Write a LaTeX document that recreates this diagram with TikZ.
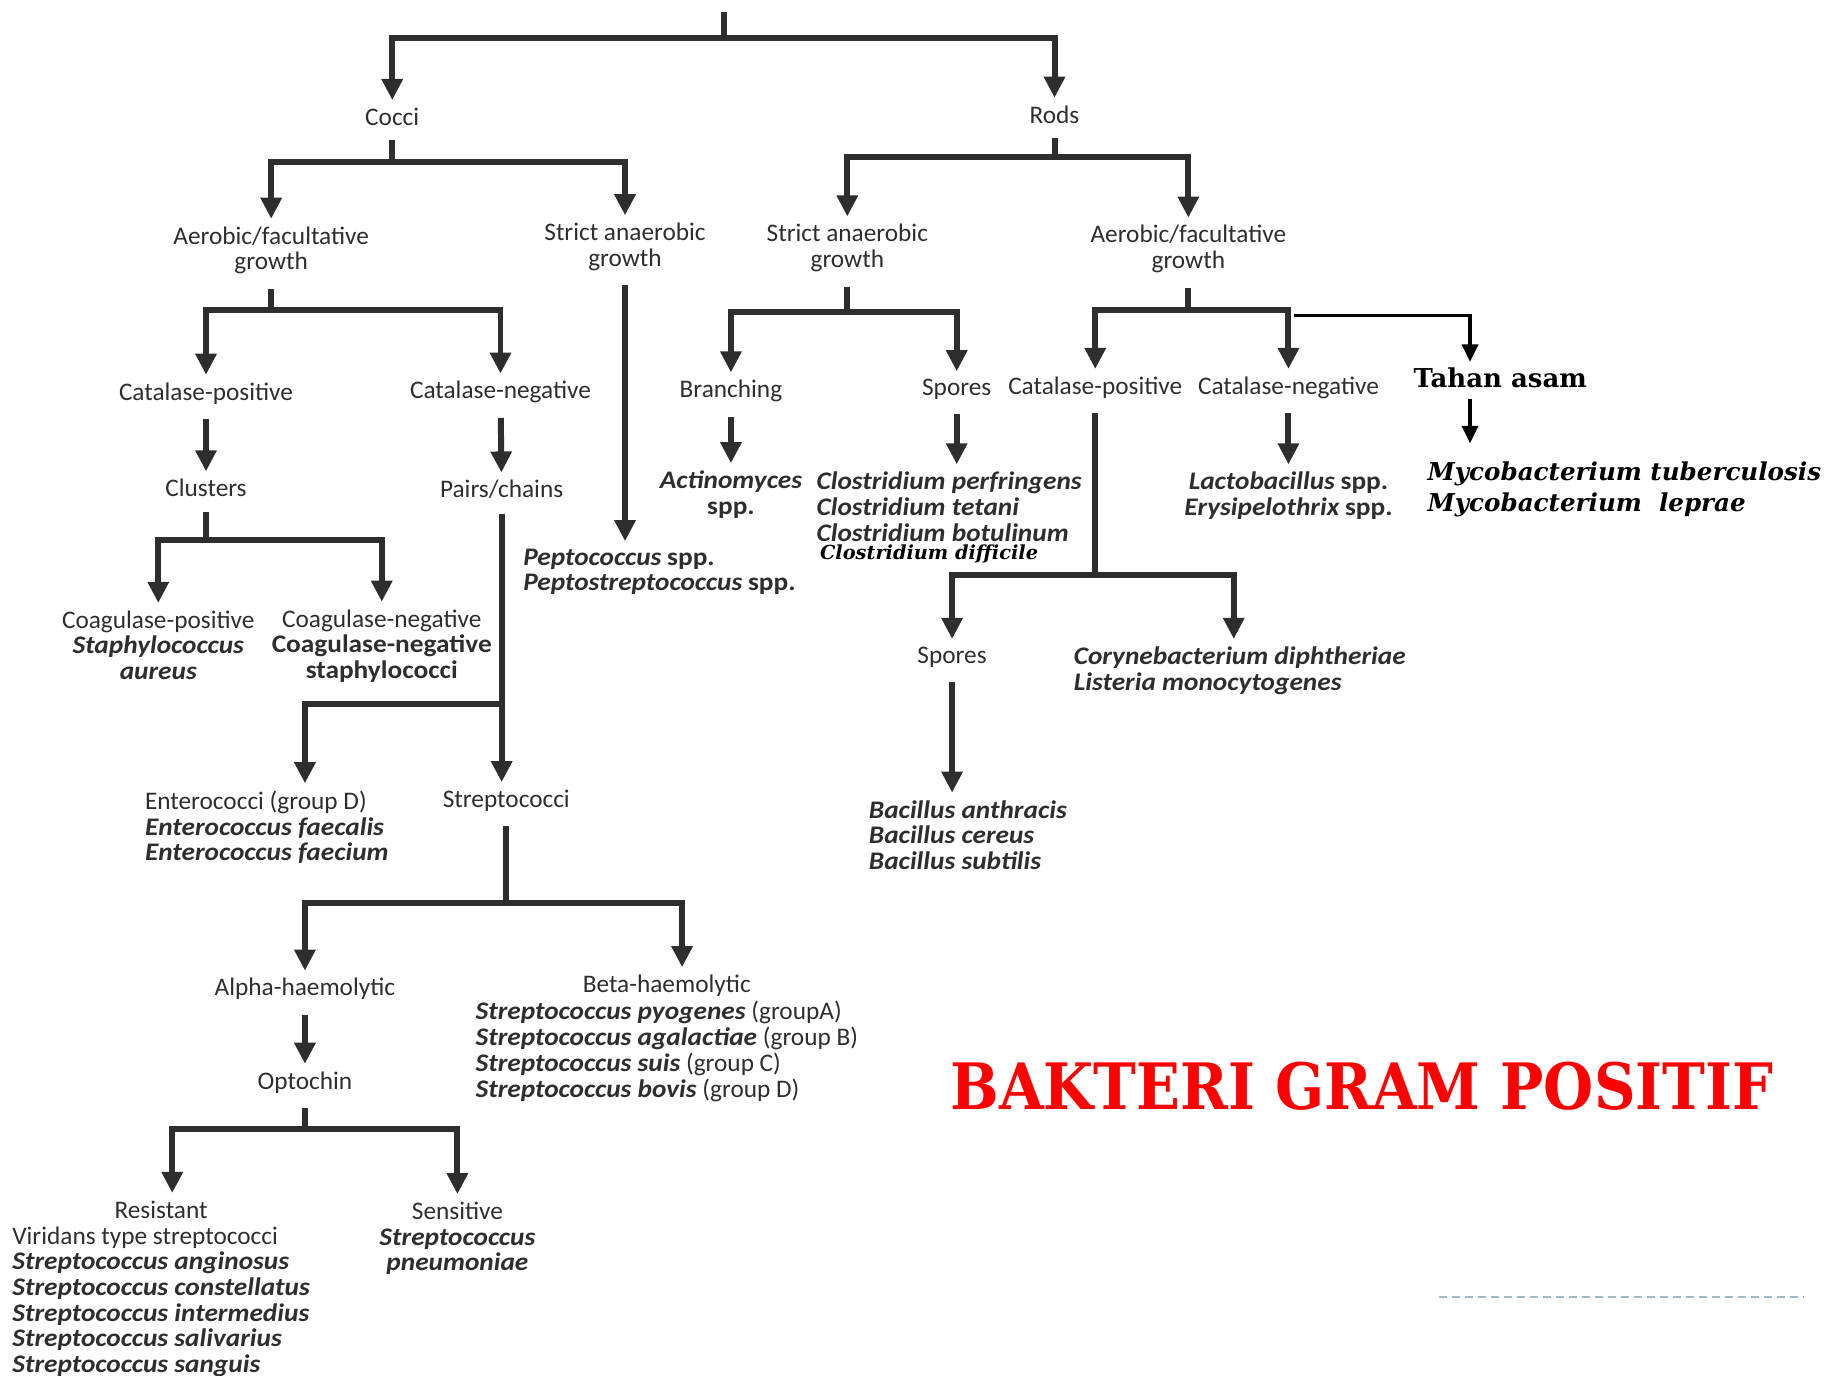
\documentclass[tikz,border=0pt]{standalone}
\usepackage{fontspec}
\setmainfont{Carlito}
\newfontfamily\spfont[FakeStretch=1.08]{Carlito}
\newfontfamily\slab{DejaVu Serif}
\newfontfamily\slabwide[FakeStretch=0.9]{DejaVu Serif}
\usetikzlibrary{arrows.meta,calc}

\definecolor{ink}{HTML}{2E2E2E}
\definecolor{dashblue}{HTML}{A4B8CC}
\definecolor{titlered}{HTML}{FF0000}
\newcommand{\sbi}[1]{{\spfont\bfseries\itshape #1}}
\newcommand{\sbf}[1]{{\spfont\bfseries #1}}

\tikzset{
  lbl/.style={font=\fontsize{7.2}{7.3}\selectfont, text=ink, inner sep=0pt, align=center, anchor=north},
  lst/.style={lbl, align=left, anchor=north west},
  arr/.style={draw=ink, line width=1.7pt, -{Triangle[width=5.8pt,length=6pt]}, shorten >=2pt},
  link/.style={draw=ink, line width=1.7pt, shorten <=4pt},
  blk/.style={draw=black, line width=1pt, -{Triangle[width=4.6pt,length=5pt]}, shorten >=1.5pt},
}

\begin{document}
\begin{tikzpicture}[x=0.011639cm, y=-0.011639cm]
\useasboundingbox (0,0) rectangle (1568,1182);

% Shape
\node[lbl] (cocci) at (337,92) {Cocci};
\node[lbl] (rods) at (906,90) {Rods};

% Growth
\node[lbl] (caer) at (233,194) {Aerobic/facultative\\growth};
\node[lbl] (cana) at (537,191) {Strict anaerobic\\growth};
\node[lbl] (rana) at (728,192) {Strict anaerobic\\growth};
\node[lbl] (raer) at (1021,193) {Aerobic/facultative\\growth};

% Cocci, aerobic
\node[lbl] (ccpos) at (177,328) {Catalase-positive};
\node[lbl] (ccneg) at (430,327) {Catalase-negative};
\node[lbl] (clus) at (177,411) {Clusters};
\node[lbl] (pairs) at (431,412) {Pairs/chains};
\node[lbl] (coagp) at (136,524) {Coagulase-positive\\\sbi{Staphylococcus}\\\sbi{aureus}};
\node[lbl] (coagn) at (328,523) {Coagulase-negative\\\sbf{Coagulase-negative}\\\sbf{staphylococci}};
\node[lst] (pepto) at (449,471) {\sbi{Peptococcus} \sbf{spp.}\\\sbi{Peptostreptococcus} \sbf{spp.}};
\node[lst] (entero) at (124,679) {Enterococci (group D)\\\sbi{Enterococcus faecalis}\\\sbi{Enterococcus faecium}};
\node[lbl] (strep) at (435,678) {Streptococci};
\node[lbl] (alpha) at (262,840) {Alpha-haemolytic};
\node[lbl, anchor=north west] (beta) at (408,837) {\begin{tabular}{@{}l@{}}\multicolumn{1}{@{}c@{}}{Beta-haemolytic}\\
  \sbi{Streptococcus pyogenes} (groupA)\\
  \sbi{Streptococcus agalactiae} (group B)\\
  \sbi{Streptococcus suis} (group C)\\
  \sbi{Streptococcus bovis} (group D)\end{tabular}};
\node[lbl] (opto) at (262,920) {Optochin};
\node[lbl, anchor=north west] (resist) at (10,1031) {\begin{tabular}{@{}l@{}}\multicolumn{1}{@{}c@{}}{Resistant}\\
  Viridans type streptococci\\
  \sbi{Streptococcus anginosus}\\
  \sbi{Streptococcus constellatus}\\
  \sbi{Streptococcus intermedius}\\
  \sbi{Streptococcus salivarius}\\
  \sbi{Streptococcus sanguis}\end{tabular}};
\node[lbl] (sens) at (393,1032) {Sensitive\\\sbi{Streptococcus}\\\sbi{pneumoniae}};

% Rods, anaerobic
\node[lbl] (branch) at (628,326) {Branching};
\node[lbl] (rspor) at (822,325) {Spores};
\node[lbl] (actino) at (628,404) {\sbi{Actinomyces}\\\sbf{spp.}};
\node[lst] (clost) at (701,405) {\sbi{Clostridium perfringens}\\\sbi{Clostridium tetani}\\\sbi{Clostridium botulinum}};
\node[anchor=base west, inner sep=0pt, font=\slab\bfseries\itshape\fontsize{5.5}{6}\selectfont] (cdiff) at (704,481) {Clostridium difficile};

% Rods, aerobic
\node[lbl] (rcpos) at (941,323) {Catalase-positive};
\node[lbl] (rcneg) at (1107,323) {Catalase-negative};
\node[anchor=base, inner sep=0pt, font=\slab\bfseries\fontsize{7.4}{8}\selectfont] (tahan) at (1289,333) {Tahan asam};
\node[lbl] (lacto) at (1107,405) {\sbi{Lactobacillus} \sbf{spp.}\\\sbi{Erysipelothrix} \sbf{spp.}};
\node[anchor=north west, inner sep=0pt, align=left, font=\slab\bfseries\itshape\fontsize{7}{8.9}\selectfont] (myco) at (1226,396) {Mycobacterium tuberculosis\\Mycobacterium\ \ leprae};
\node[lbl] (spores2) at (818,555) {Spores};
\node[lst] (coryne) at (922,555) {\sbi{Corynebacterium diphtheriae}\\\sbi{Listeria monocytogenes}};
\node[lst] (bacil) at (746,687) {\sbi{Bacillus anthracis}\\\sbi{Bacillus cereus}\\\sbi{Bacillus subtilis}};

% Title
\node[anchor=base, inner sep=0pt, text=titlered, font=\slabwide\bfseries\fontsize{18.2}{20}\selectfont] (title) at (1170,953) {BAKTERI GRAM POSITIF};

% Forks
\coordinate (top) at (622,10);
\coordinate (f0) at (622,33);
\coordinate (fc) at (337,139);
\coordinate (fr) at (906,135);
\coordinate (fca) at (233,266);
\coordinate (fcl) at (177,464);
\coordinate (fp) at (431,605);
\coordinate (fs) at (435,776);
\coordinate (fo) at (262,970);
\coordinate (fra) at (728,268);
\coordinate (frb) at (1021,266);
\coordinate (ft) at (1112,271);
\coordinate (frc) at (941,494);
\coordinate (ex) at ($(entero.north west)+(138,0)$);
\coordinate (bx) at ($(beta.north west)+(178,0)$);
\coordinate (rx) at ($(resist.north west)+(138,0)$);
\coordinate (cx) at ($(coryne.north west)+(138,0)$);
\coordinate (tx) at ($(tahan.north)+(-26,0)$);
\coordinate (ty) at ($(tahan.south)+(-26,0)$);

% Arrows
\draw[draw=ink, line width=1.7pt] (top) -- (f0);
\draw[arr] (f0) -| (cocci);
\draw[arr] (f0) -| (rods);

\draw[link] (cocci) -- (fc);
\draw[arr] (fc) -| (caer);
\draw[arr] (fc) -| (cana);
\draw[link] (rods) -- (fr);
\draw[arr] (fr) -| (rana);
\draw[arr] (fr) -| (raer);

\draw[link] (caer) -- (fca);
\draw[arr] (fca) -| (ccpos);
\draw[arr] (fca) -| (ccneg);
\draw[arr, shorten <=4pt] (ccpos) -- (clus);
\draw[arr, shorten <=4pt] (ccneg) -- (pairs);
\draw[link] (clus) -- (fcl);
\draw[arr] (fcl) -| (coagp);
\draw[arr] (fcl) -| (coagn);
\draw[arr, shorten <=4pt] (cana) -- (cana |- pepto.north);
\draw[arr, shorten <=4pt] (pairs) -- (pairs |- strep.north);
\draw[arr] (fp) -| (ex);
\draw[link] (strep) -- (fs);
\draw[arr] (fs) -| (alpha);
\draw[arr] (fs) -| (bx);
\draw[arr, shorten <=4pt] (alpha) -- (opto);
\draw[link] (opto) -- (fo);
\draw[arr] (fo) -| (rx);
\draw[arr] (fo) -| (sens);

\draw[link] (rana) -- (fra);
\draw[arr] (fra) -| (branch);
\draw[arr] (fra) -| (rspor);
\draw[arr, shorten <=4pt] (branch) -- (actino);
\draw[arr, shorten <=4pt] (rspor) -- (rspor |- clost.north);

\draw[link] (raer) -- (frb);
\draw[arr] (frb) -| (rcpos);
\draw[arr] (frb) -| (rcneg);
\draw[blk] (ft) -| (tx);
\draw[blk, shorten <=3pt, shorten >=5pt] (ty) -- (ty |- myco.north);
\draw[arr, shorten <=4pt] (rcneg) -- (lacto);
\draw[link] (rcpos) -- (frc);
\draw[arr] (frc) -| (spores2);
\draw[arr] (frc) -| (cx);
\draw[arr, shorten <=4pt] (spores2) -- (spores2 |- bacil.north);

% Footer rule
\draw[dashblue, line width=0.6pt, dash pattern=on 2.3pt off 1.4pt] (1236,1114) -- (1550,1114);
\end{tikzpicture}
\end{document}
